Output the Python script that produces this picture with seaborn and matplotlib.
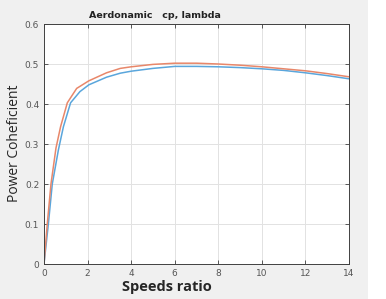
import seaborn as sns
import matplotlib.pyplot as plt
import pandas as pd
import numpy as np
from matplotlib.patches import Rectangle

# values
lam_orange = [0, 0.15, 0.32, 0.55, 0.76, 1.07, 1.5, 2.06, 2.87, 3.5, 4, 5, 6, 7, 8, 9, 10, 11, 12, 13, 14]
cp_orange = [0, 0.1, 0.2, 0.29, 0.343, 0.403, 0.439, 0.458, 0.478, 0.489, 0.493, 0.499, 0.502, 0.502,
             0.5, 0.497, 0.493, 0.488, 0.483, 0.476, 0.468]
lam_blue = [0, 0.2, 0.38, 0.66, 0.89, 1.22, 1.65, 2.06, 2.87, 3.5, 4, 5, 6, 7, 8, 9, 10, 11, 12, 13, 14]
cp_blue = [0, 0.1, 0.2, 0.285, 0.343, 0.403, 0.431, 0.448, 0.467, 0.477, 0.482, 0.489, 0.494, 0.494,
           0.493, 0.491, 0.488, 0.484, 0.478, 0.471, 0.463]
x_ticks = [0, 2, 4, 6, 8, 10, 12, 14]
y_ticks = [0, 0.1, 0.2, 0.3, 0.4, 0.5, 0.6]

sns.set_style("ticks")
plt.rcParams['font.family'] = ['DejaVu Sans']

fig = plt.figure(figsize=(3.86, 2.99), dpi=100, facecolor='#f0f0f0')
fig.patches.append(Rectangle((368 / 386, 0), 1, 1, transform=fig.transFigure,
                             facecolor='white', edgecolor='none', zorder=0))
ax = fig.add_axes([44 / 386, 1 - 264 / 299, 305 / 386, 240 / 299])
ax.set_facecolor('white')

df_b = pd.DataFrame({'lam': lam_blue, 'cp': cp_blue})
df_o = pd.DataFrame({'lam': lam_orange, 'cp': cp_orange})
sns.lineplot(data=df_b, x='lam', y='cp', ax=ax, color='#5aa6dc', lw=1.1, sort=False)
sns.lineplot(data=df_o, x='lam', y='cp', ax=ax, color='#e8876a', lw=1.1, sort=False)

ax.set_xlim(0, 14)
ax.set_ylim(0, 0.6)
ax.set_xticks(x_ticks)
ax.set_yticks(y_ticks)
ax.set_xticklabels([str(t) for t in x_ticks])
ax.set_yticklabels(['0', '0.1', '0.2', '0.3', '0.4', '0.5', '0.6'])
ax.grid(True, color='#e2e2e2', lw=0.7)
ax.tick_params(direction='in', length=3, width=0.6, colors='#404040', labelsize=6.5,
               labelcolor='#555555', top=True, right=True)
for s in ax.spines.values():
    s.set_visible(True)
    s.set_color('#404040')
    s.set_linewidth(0.7)

ax.set_xlabel('')
ax.set_ylabel('')
fig.text(167 / 386, 1 - 287 / 299, 'Speeds ratio', ha='center', va='center',
         fontsize=10.5, fontweight='bold', family=['Open Sans', 'DejaVu Sans'])
fig.text(15 / 386, 1 - 143 / 299, 'Power Coheficient', ha='center', va='center',
         rotation=90, fontsize=10, family=['Open Sans', 'DejaVu Sans'])
fig.text(155 / 386, 1 - 15 / 299, 'Aerdonamic   cp, lambda', ha='center', va='center',
         fontsize=6.8, fontweight='bold', color='#222222')

fig.savefig('out.png', dpi=100, facecolor=fig.get_facecolor())
